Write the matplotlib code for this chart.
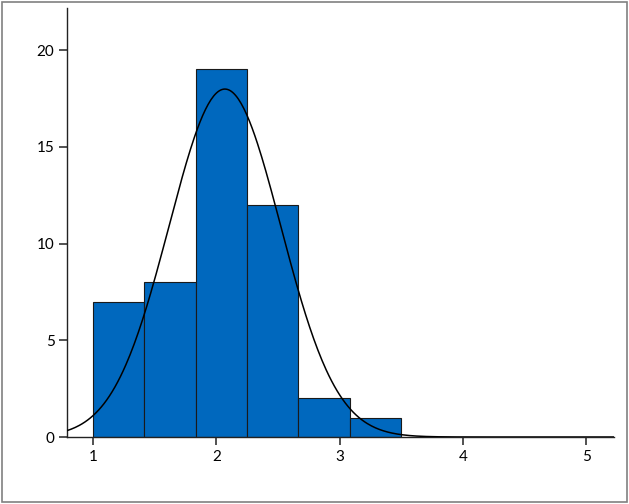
import numpy as np
import matplotlib.pyplot as plt

# histogram counts (6 equal bins from 1 to 3.5)
bin_edges = [1.0, 1.4167, 1.8333, 2.25, 2.6667, 3.0833, 3.5]
counts = [7, 8, 19, 12, 2, 1]

# normal curve fitted to the data
mean = 2.07
std_dev = 0.453
n_total = sum(counts)

x_ticks = [1, 2, 3, 4, 5]
y_ticks = [0, 5, 10, 15, 20]

plt.rcParams['font.family'] = ['Lato', 'DejaVu Sans']

fig = plt.figure(figsize=(6.29, 5.04), dpi=100)
ax = fig.add_axes([0.1065, 0.1329, 0.8697, 0.8512])

widths = np.diff(bin_edges)
ax.bar(bin_edges[:-1], counts, width=widths, align='edge',
       color='#0068BE', edgecolor='#1a1a1a', linewidth=0.8, zorder=2)

xs = np.linspace(0.789, 5.227, 400)
bw = widths[0]
ys = n_total * bw / (std_dev * np.sqrt(2 * np.pi)) * np.exp(-0.5 * ((xs - mean) / std_dev) ** 2)
ax.plot(xs, ys, color='black', linewidth=1.1, zorder=3)

ax.set_xlim(0.789, 5.227)
ax.set_ylim(0, 22.17)
ax.set_xticks(x_ticks)
ax.set_yticks(y_ticks)
ax.tick_params(direction='out', length=6, width=1.2, labelsize=11, color='#333333', pad=3)

for side in ['top', 'right']:
    ax.spines[side].set_visible(False)
for side in ['left', 'bottom']:
    ax.spines[side].set_linewidth(1.0)
    ax.spines[side].set_color('#222222')

# outer grey frame
fig.patches.append(plt.Rectangle((0.003, 0.003), 0.994, 0.994, transform=fig.transFigure,
                                 fill=False, edgecolor='#808080', linewidth=1.2))

fig.savefig('out.png', dpi=100)
